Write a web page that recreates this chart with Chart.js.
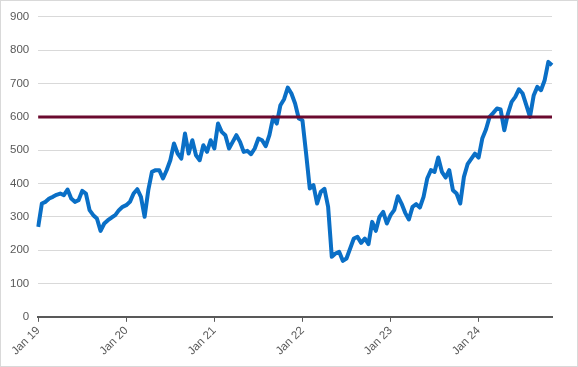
<!DOCTYPE html>
<html>
<head>
<meta charset="utf-8">
<script src="https://cdn.jsdelivr.net/npm/chart.js@4"></script>
<style>
  html, body { margin: 0; padding: 0; background: #fff; }
  #wrap { width: 578px; height: 367px; box-sizing: border-box; border: 1px solid #d9d9d9; }
</style>
</head>
<body>
<div id="wrap"><canvas id="chart"></canvas></div>
<script>
// semi-monthly readings (1st and 15th of each month), Jan 2019 - Nov 2024
const years = [2019, 2020, 2021, 2022, 2023, 2024];
const months = ['Jan', 'Feb', 'Mar', 'Apr', 'May', 'Jun', 'Jul', 'Aug', 'Sep', 'Oct', 'Nov', 'Dec'];

const v2019 = [270, 340, 345, 355, 360, 366, 370, 365, 382, 355, 345, 350, 378, 370, 320, 305, 295, 258, 280, 290, 298, 305, 320, 330];
const v2020 = [335, 345, 370, 383, 360, 300, 380, 435, 440, 440, 415, 440, 470, 520, 490, 475, 550, 490, 530, 485, 470, 515, 495, 530];
const v2021 = [505, 580, 555, 545, 505, 525, 545, 525, 495, 498, 488, 505, 535, 530, 512, 545, 598, 580, 635, 653, 688, 670, 640, 595];
const v2022 = [590, 490, 385, 395, 340, 375, 384, 330, 180, 190, 195, 168, 175, 205, 235, 240, 222, 235, 218, 285, 258, 300, 315, 280];
const v2023 = [305, 320, 362, 340, 312, 292, 330, 338, 328, 360, 415, 440, 435, 478, 435, 418, 440, 380, 370, 340, 420, 458, 474, 490];
const v2024 = [478, 535, 562, 600, 612, 625, 622, 560, 610, 645, 660, 683, 670, 635, 600, 664, 690, 680, 710, 765, 755];

const threshold = 600;
const yTicks = [0, 100, 200, 300, 400, 500, 600, 700, 800, 900];

const values = [].concat(v2019, v2020, v2021, v2022, v2023, v2024);

// build the category list to match the values
let labels = [];
years.forEach(function (y) {
    months.forEach(function (m) {
        labels.push(m + ' ' + String(y).slice(2) + '|1');
        labels.push(m + ' ' + String(y).slice(2) + '|15');
    });
});
labels = labels.slice(0, values.length);

const ctx = document.getElementById('chart').getContext('2d');
new Chart(ctx, {
    type: 'line',
    data: {
        labels: labels,
        datasets: [{
            label: 'Threshold',
            data: labels.map(() => threshold),
            borderColor: '#6b0a2e',
            borderWidth: 3,
            pointRadius: 0,
            tension: 0
        }, {
            label: 'Series',
            data: values,
            borderColor: '#0a6fc6',
            borderWidth: 4,
            borderJoinStyle: 'round',
            pointRadius: 0,
            tension: 0
        }]
    },
    options: {
        responsive: true,
        maintainAspectRatio: false,
        animation: false,
        layout: { padding: { top: 4, right: 25, left: 0, bottom: 6 } },
        plugins: {
            legend: { display: false },
            tooltip: { enabled: false }
        },
        scales: {
            x: {
                offset: false,
                border: { display: true, color: '#595959', width: 2 },
                grid: { drawOnChartArea: false, drawTicks: true, tickLength: 5, color: '#595959' },
                ticks: {
                    autoSkip: false,
                    minRotation: 45,
                    maxRotation: 45,
                    color: '#595959',
                    font: { family: 'Liberation Sans', size: 11.5 },
                    padding: 2,
                    callback: function (val) {
                        const l = labels[val];
                        if (l.startsWith('Jan') && l.endsWith('|1')) return l.split('|')[0];
                        return null;
                    }
                }
            },
            y: {
                min: 0,
                max: 900,
                border: { display: false },
                grid: { color: '#d9d9d9', drawTicks: false, lineWidth: 1 },
                afterBuildTicks: function (scale) {
                    scale.ticks = yTicks.map(v => ({ value: v }));
                },
                ticks: {
                    color: '#595959',
                    font: { family: 'Liberation Sans', size: 11.5 },
                    padding: 9
                }
            }
        }
    }
});
</script>
</body>
</html>
